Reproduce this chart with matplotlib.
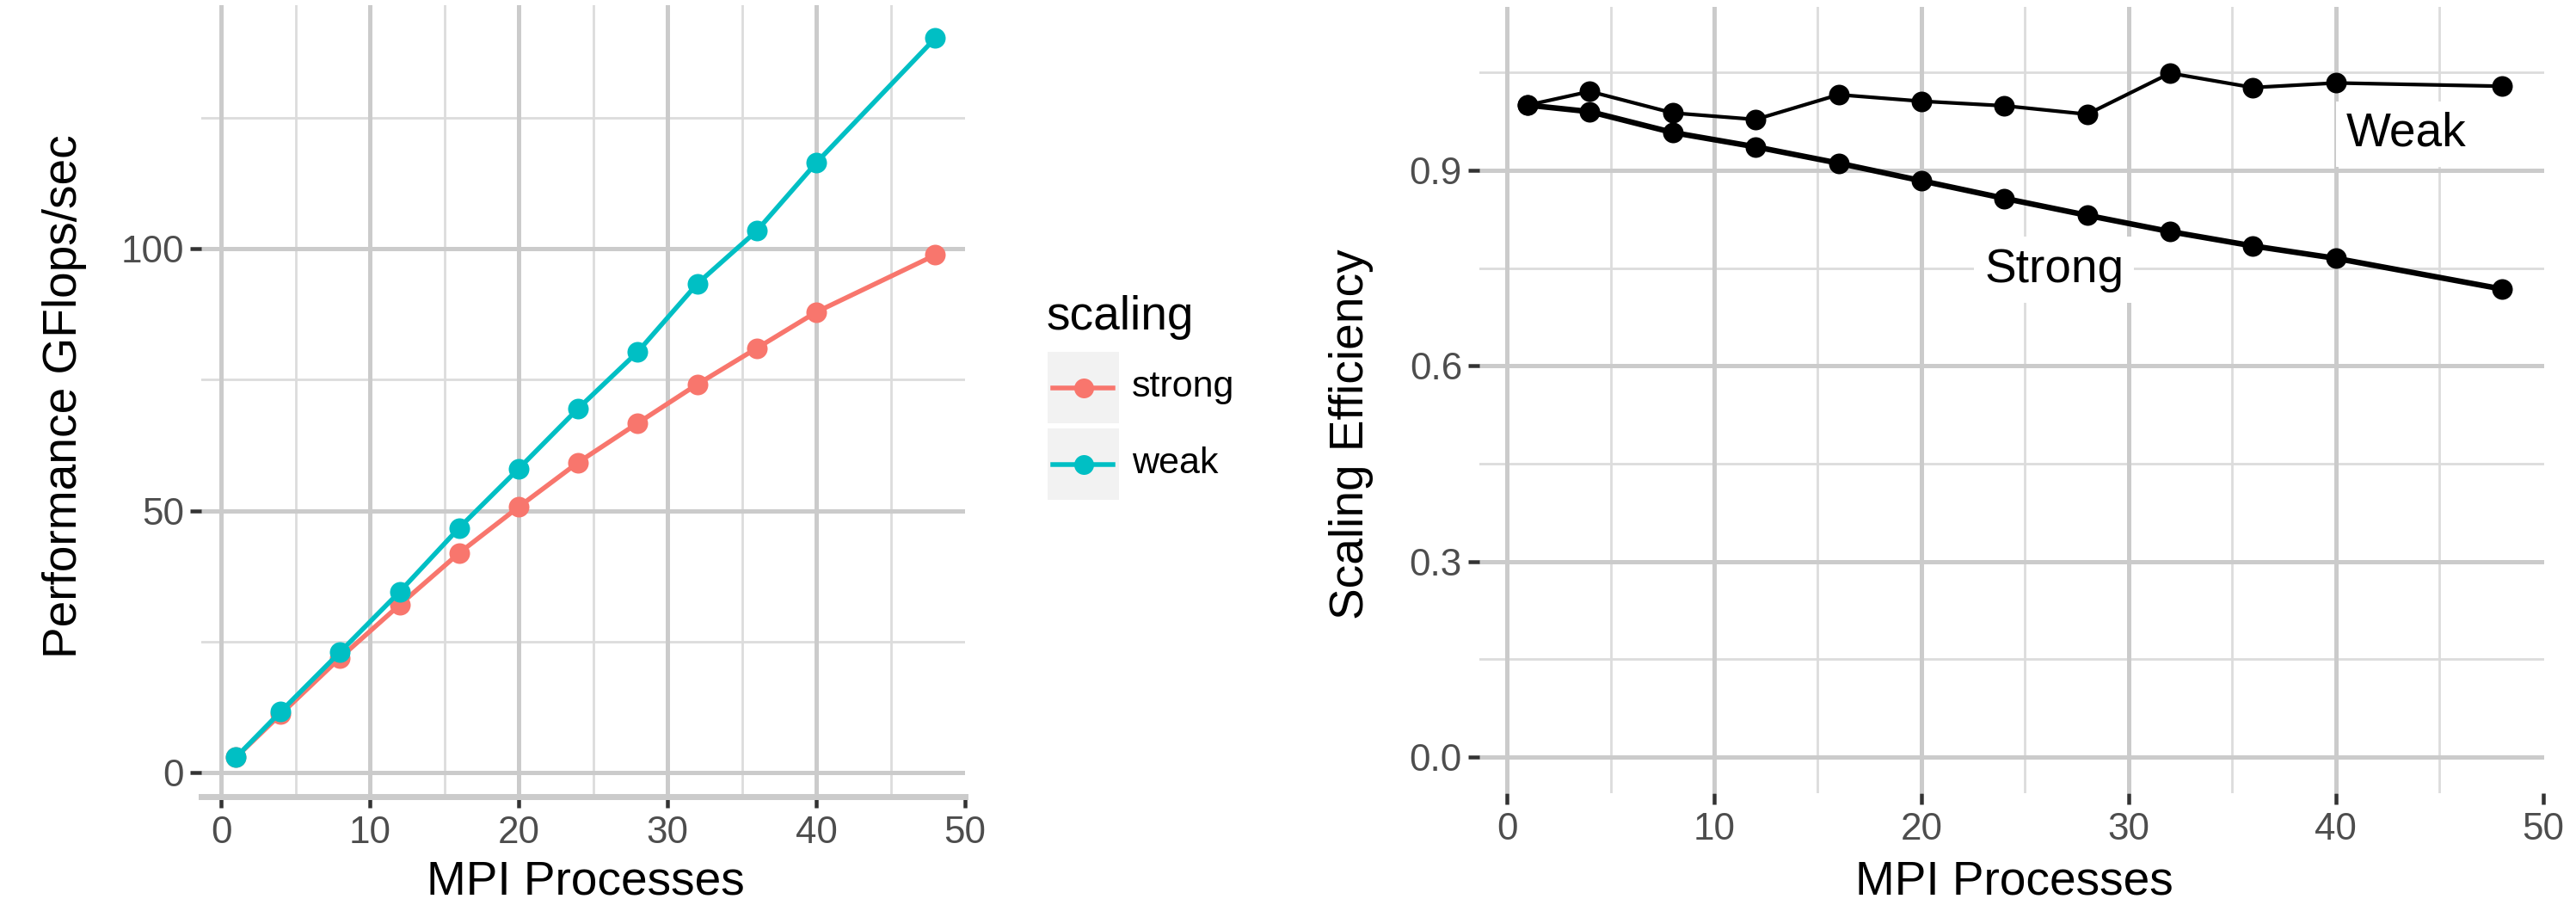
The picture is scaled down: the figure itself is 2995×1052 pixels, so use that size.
import matplotlib
matplotlib.use("Agg")
import matplotlib.pyplot as plt
from matplotlib import font_manager
from matplotlib.lines import Line2D
from matplotlib.patches import Rectangle
from matplotlib.ticker import FixedLocator, FixedFormatter

# ---------------- data ----------------
processes = [1, 4, 8, 12, 16, 20, 24, 28, 32, 36, 40, 48]
perf_strong = [2.9, 11.1, 21.9, 32.0, 41.9, 50.7, 59.2, 66.7, 74.1, 81.0, 87.9, 98.8]
perf_weak = [2.9, 11.6, 23.0, 34.5, 46.7, 58.0, 69.5, 80.3, 93.3, 103.4, 116.4, 140.2]
eff_strong = [1.000, 0.990, 0.958, 0.936, 0.911, 0.884, 0.857, 0.831, 0.806, 0.784, 0.765, 0.718]
eff_weak = [1.000, 1.021, 0.988, 0.978, 1.016, 1.006, 0.999, 0.986, 1.049, 1.027, 1.034, 1.029]

series_names = ["strong", "weak"]
series_colors = ["#F8766D", "#00BFC4"]
legend_title = "scaling"

x_ticks = [0, 10, 20, 30, 40, 50]
x_tick_labels = ["0", "10", "20", "30", "40", "50"]
perf_ticks = [0, 50, 100]
perf_tick_labels = ["0", "50", "100"]
eff_ticks = [0.0, 0.3, 0.6, 0.9]
eff_tick_labels = ["0.0", "0.3", "0.6", "0.9"]

label_texts = ["Weak", "Strong"]
label_x = [43.4, 26.4]
label_y = [0.937, 0.729]

# ---------------- style ----------------
W, H, DPI = 2995, 1052, 72
names = {f.name for f in font_manager.fontManager.ttflist}
FONT = "Liberation Sans" if "Liberation Sans" in names else "DejaVu Sans"
plt.rcParams["font.family"] = [FONT, "DejaVu Sans"]

GRID_MAJ = "#cbcbcb"
GRID_MIN = "#dcdcdc"
TICK_C = "#333333"
TICKLAB = "#4d4d4d"
TICK_SIZE = 44
TITLE_SIZE = 55

fig = plt.figure(figsize=(W / DPI, H / DPI), dpi=DPI)
fig.patch.set_facecolor("white")


def px_axes(x0, x1, ytop, ybot):
    return fig.add_axes([x0 / W, 1 - ybot / H, (x1 - x0) / W, (ybot - ytop) / H])


def style(ax, yticks, ylabels, ymajor_grid, yminor_grid):
    ax.set_facecolor("white")
    ax.xaxis.set_major_locator(FixedLocator(x_ticks))
    ax.xaxis.set_major_formatter(FixedFormatter(x_tick_labels))
    ax.yaxis.set_major_locator(FixedLocator(yticks))
    ax.yaxis.set_major_formatter(FixedFormatter(ylabels))
    for v in [5, 15, 25, 35, 45]:
        ax.axvline(v, color=GRID_MIN, lw=2.8, zorder=0.5)
    for v in [0, 10, 20, 30, 40]:
        ax.axvline(v, color=GRID_MAJ, lw=5, zorder=0.6)
    for v in yminor_grid:
        ax.axhline(v, color=GRID_MIN, lw=2.8, zorder=0.5)
    for v in ymajor_grid:
        ax.axhline(v, color=GRID_MAJ, lw=5, zorder=0.6)
    ax.tick_params(which="major", length=13, width=4.5, color=TICK_C,
                   labelcolor=TICKLAB, labelsize=TICK_SIZE)
    ax.tick_params(axis="x", pad=9)
    ax.tick_params(axis="y", pad=7)
    for s in ax.spines.values():
        s.set_visible(False)


# ---------------- left panel ----------------
axL = px_axes(234, 1122, 6, 926)
axL.set_xlim(-1.33, 50.0)
axL.set_ylim(-4.6, 146.5)
style(axL, perf_ticks, perf_tick_labels, [0, 50, 100], [25, 75, 125])
axL.spines["bottom"].set_visible(True)
axL.spines["bottom"].set_color(GRID_MAJ)
axL.spines["bottom"].set_linewidth(7)

for vals, col in zip([perf_strong, perf_weak], series_colors):
    axL.plot(processes, vals, color=col, lw=5.5, marker="o", ms=24,
             markeredgewidth=0, zorder=3)

fig.text(75 / W, 1 - 461 / H, "Performance GFlops/sec", rotation=90,
         ha="center", va="center", fontsize=TITLE_SIZE, color="black")
fig.text(681 / W, 1 - 1040 / H, "MPI Processes", ha="center", va="baseline",
         fontsize=TITLE_SIZE, color="black")

# legend
fig.text(1217 / W, 1 - 383 / H, legend_title, ha="left", va="baseline",
         fontsize=TITLE_SIZE, color="black")
for i, (lab, col) in enumerate(zip(series_names, series_colors)):
    top = 409 + i * 89
    yc = 1 - (top + 41.5) / H
    fig.add_artist(Rectangle((1218 / W, 1 - (top + 83) / H), 83 / W, 83 / H,
                             transform=fig.transFigure, facecolor="#f2f2f2",
                             edgecolor="none"))
    fig.add_artist(Line2D([1224 / W, 1294 / W], [yc, yc], transform=fig.transFigure,
                          color=col, lw=5.5))
    fig.add_artist(Line2D([1259.5 / W], [yc], transform=fig.transFigure, color=col,
                          marker="o", ms=23, markeredgewidth=0, ls="none"))
    fig.text(1316 / W, yc, lab, ha="left", va="center", fontsize=43, color="black")

# ---------------- right panel ----------------
axR = px_axes(1720, 2958, 8, 922)
axR.set_xlim(-1.33, 50.05)
axR.set_ylim(-0.0554, 1.1507)
style(axR, eff_ticks, eff_tick_labels, [0.0, 0.3, 0.6, 0.9], [0.15, 0.45, 0.75, 1.05])

axR.plot(processes, eff_strong, color="black", lw=6.5, marker="o", ms=24,
         markeredgewidth=0, zorder=3)
axR.plot(processes, eff_weak, color="black", lw=4.2, marker="o", ms=24,
         markeredgewidth=0, zorder=3)

for t, lx, ly in zip(label_texts, label_x, label_y):
    axR.text(lx, ly, t, ha="center", va="baseline", fontsize=TITLE_SIZE,
             color="black", zorder=2,
             bbox=dict(boxstyle="square,pad=0.22", facecolor="white",
                       edgecolor="none"))

fig.text(1571 / W, 1 - 505 / H, "Scaling Efficiency", rotation=90,
         ha="center", va="center", fontsize=TITLE_SIZE, color="black")
fig.text(2342 / W, 1 - 1040 / H, "MPI Processes", ha="center", va="baseline",
         fontsize=TITLE_SIZE, color="black")

fig.savefig("out.png", dpi=DPI, facecolor="white")
